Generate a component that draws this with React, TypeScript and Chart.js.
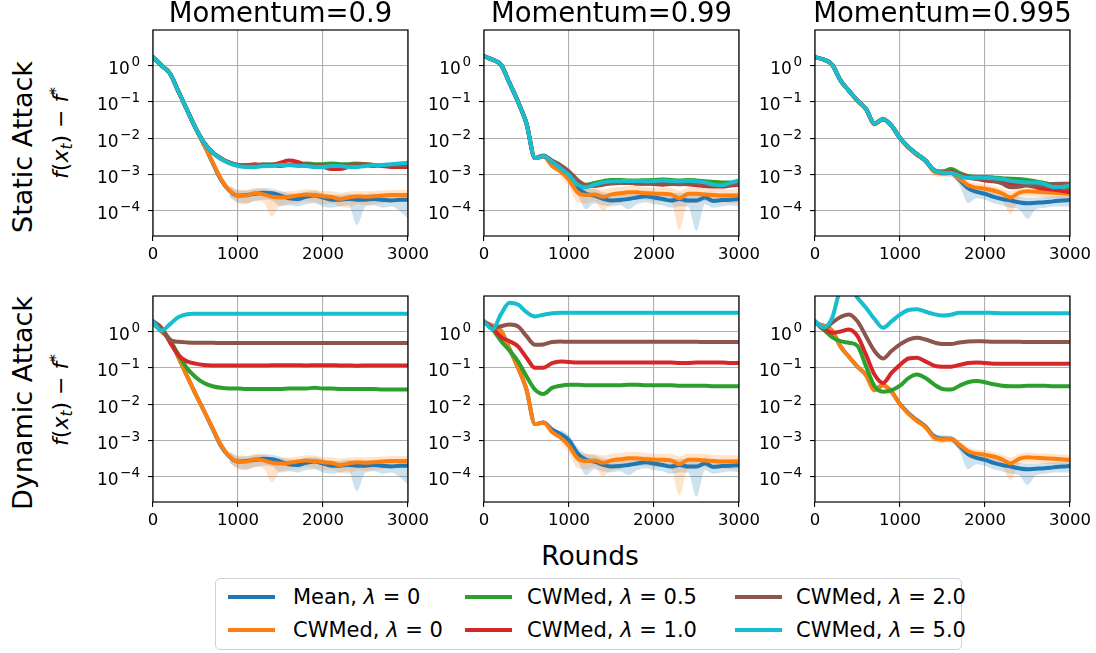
import React, { useEffect, useRef } from "react";
import { Chart, registerables } from "chart.js";

Chart.register(...registerables);

// ---------------- data ----------------
const ROUNDS = [0, 100, 200, 300, 400, 500, 600, 700, 800, 900, 1000, 1100, 1200, 1300, 1400, 1500, 1600, 1700, 1800, 1900, 2000, 2100, 2200, 2300, 2400, 2500, 2600, 2700, 2800, 2900, 3000];
const BAND_ROUNDS = [900, 1000, 1100, 1200, 1300, 1400, 1500, 1600, 1700, 1800, 1900, 2000, 2100, 2200, 2300, 2400, 2500, 2600, 2700, 2800, 2900, 3000];

const X_TICKS = [0, 1000, 2000, 3000];
const Y_TICKS = [1e-4, 1e-3, 1e-2, 1e-1, 1];
const Y_TICK_BASE = "10";
const Y_TICK_EXPONENTS = ["−4", "−3", "−2", "−1", "0"];

const TITLES = ["Momentum=0.9", "Momentum=0.99", "Momentum=0.995"];
const ROW_LABELS = ["Static Attack", "Dynamic Attack"];
const X_LABEL = "Rounds";

const SERIES_NAMES = ["Mean", "CWMed", "CWMed", "CWMed", "CWMed", "CWMed"];
const SERIES_LAMBDAS = ["0", "0", "0.5", "1.0", "2.0", "5.0"];
const COLORS = ["#1f77b4", "#ff7f0e", "#2ca02c", "#d62728", "#8c564b", "#17becf"];
const BAND_COLORS = ["rgba(31,119,180,0.22)", "rgba(255,127,14,0.22)"];

// Momentum 0.9 — Mean / CWMed λ=0 (same under both attacks)
const M09_MEAN = [1.7, 1.0, 0.6, 0.19, 0.06, 0.019, 0.0065, 0.0021, 7.0e-4, 3.5e-4, 2.6e-4, 2.7e-4, 2.9e-4, 3.1e-4, 3.0e-4, 2.6e-4, 2.2e-4, 2.1e-4, 2.4e-4, 2.6e-4, 2.3e-4, 2.0e-4, 2.0e-4, 2.1e-4, 2.0e-4, 2.0e-4, 2.1e-4, 2.0e-4, 1.9e-4, 2.0e-4, 2.0e-4];
const M09_CWMED0 = [1.7, 1.0, 0.6, 0.19, 0.06, 0.019, 0.0065, 0.0022, 7.5e-4, 3.6e-4, 2.6e-4, 2.6e-4, 3.0e-4, 2.8e-4, 2.4e-4, 2.3e-4, 2.4e-4, 2.6e-4, 2.8e-4, 2.7e-4, 2.5e-4, 2.4e-4, 2.1e-4, 2.3e-4, 2.5e-4, 2.4e-4, 2.5e-4, 2.6e-4, 2.7e-4, 2.7e-4, 2.7e-4];
const M09_MEAN_LO = [2.4e-4, 1.7e-4, 1.6e-4, 1.8e-4, 2.0e-4, 1.9e-4, 1.3e-4, 1.4e-4, 1.3e-4, 1.5e-4, 1.6e-4, 1.3e-4, 1.2e-4, 1.3e-4, 1.4e-4, 4e-5, 1.3e-4, 1.4e-4, 1.2e-4, 1.3e-4, 1.0e-4, 6e-5];
const M09_MEAN_HI = [4.8e-4, 3.6e-4, 3.6e-4, 3.9e-4, 4.2e-4, 4.0e-4, 3.5e-4, 3.0e-4, 2.9e-4, 3.3e-4, 3.5e-4, 3.0e-4, 2.7e-4, 2.7e-4, 2.9e-4, 2.7e-4, 2.8e-4, 2.9e-4, 2.7e-4, 2.6e-4, 2.7e-4, 2.8e-4];
const M09_CWMED0_LO = [2.5e-4, 1.6e-4, 1.5e-4, 1.9e-4, 1.7e-4, 7e-5, 1.4e-4, 1.5e-4, 1.6e-4, 1.8e-4, 1.7e-4, 1.5e-4, 1.6e-4, 1.3e-4, 1.2e-4, 1.5e-4, 1.4e-4, 1.5e-4, 1.6e-4, 1.7e-4, 1.7e-4, 1.8e-4];
const M09_CWMED0_HI = [5.0e-4, 3.8e-4, 3.7e-4, 4.2e-4, 4.0e-4, 3.4e-4, 3.3e-4, 3.4e-4, 3.6e-4, 3.9e-4, 3.8e-4, 3.5e-4, 3.4e-4, 3.1e-4, 3.3e-4, 3.5e-4, 3.4e-4, 3.5e-4, 3.6e-4, 3.7e-4, 3.7e-4, 3.7e-4];

// Momentum 0.9 — static attack
const S09_CW05 = [1.7, 1.0, 0.6, 0.19, 0.06, 0.019, 0.0075, 0.004, 0.0027, 0.0021, 0.0018, 0.0017, 0.0017, 0.0018, 0.0019, 0.0018, 0.0018, 0.0019, 0.0020, 0.0019, 0.0019, 0.0020, 0.0019, 0.0019, 0.0020, 0.0019, 0.0018, 0.0018, 0.0017, 0.0017, 0.0016];
const S09_CW10 = [1.7, 1.0, 0.6, 0.19, 0.06, 0.019, 0.0075, 0.004, 0.0027, 0.0021, 0.0018, 0.0018, 0.0019, 0.0017, 0.0018, 0.0021, 0.0024, 0.0022, 0.0018, 0.0017, 0.0016, 0.0014, 0.0014, 0.0016, 0.0018, 0.0019, 0.0018, 0.0017, 0.0016, 0.0016, 0.0016];
const S09_CW20 = [1.7, 1.0, 0.6, 0.19, 0.06, 0.019, 0.0076, 0.0041, 0.0028, 0.0021, 0.0018, 0.0018, 0.0018, 0.0019, 0.0018, 0.0017, 0.0018, 0.0018, 0.0019, 0.0018, 0.0018, 0.0017, 0.0018, 0.0018, 0.0019, 0.0018, 0.0017, 0.0018, 0.0018, 0.0018, 0.0018];
const S09_CW50 = [1.7, 1.0, 0.6, 0.19, 0.06, 0.019, 0.0075, 0.004, 0.0027, 0.0020, 0.0017, 0.0016, 0.0016, 0.0017, 0.0017, 0.0018, 0.0018, 0.0017, 0.0017, 0.0016, 0.0016, 0.0017, 0.0017, 0.0016, 0.0016, 0.0017, 0.0018, 0.0018, 0.0019, 0.0020, 0.0021];

// Momentum 0.9 — dynamic attack
const D09_CW05 = [1.9, 1.25, 0.55, 0.23, 0.097, 0.056, 0.038, 0.031, 0.028, 0.027, 0.027, 0.026, 0.026, 0.026, 0.026, 0.026, 0.027, 0.027, 0.027, 0.028, 0.027, 0.027, 0.026, 0.026, 0.026, 0.026, 0.026, 0.025, 0.025, 0.025, 0.025];
const D09_CW10 = [1.9, 1.25, 0.5, 0.22, 0.15, 0.13, 0.12, 0.116, 0.115, 0.115, 0.115, 0.115, 0.115, 0.116, 0.117, 0.118, 0.118, 0.117, 0.116, 0.117, 0.118, 0.117, 0.116, 0.115, 0.114, 0.115, 0.116, 0.116, 0.115, 0.115, 0.115];
const D09_CW20 = [1.9, 1.15, 0.58, 0.52, 0.5, 0.49, 0.49, 0.49, 0.48, 0.48, 0.48, 0.48, 0.48, 0.48, 0.48, 0.48, 0.48, 0.48, 0.48, 0.48, 0.48, 0.48, 0.48, 0.48, 0.48, 0.48, 0.48, 0.48, 0.48, 0.48, 0.48];
const D09_CW50 = [1.9, 1.05, 1.6, 2.5, 3.0, 3.08, 3.1, 3.1, 3.1, 3.1, 3.1, 3.1, 3.1, 3.1, 3.1, 3.1, 3.1, 3.1, 3.1, 3.1, 3.1, 3.1, 3.1, 3.1, 3.1, 3.1, 3.1, 3.1, 3.1, 3.1, 3.1];

// Momentum 0.99 — Mean / CWMed λ=0
const M099_MEAN = [1.8, 1.45, 1.05, 0.33, 0.1, 0.025, 0.0028, 0.0031, 0.002, 0.0015, 0.001, 4.4e-4, 2.9e-4, 2.6e-4, 2.1e-4, 1.9e-4, 1.95e-4, 2.1e-4, 2.3e-4, 2.5e-4, 2.3e-4, 2.1e-4, 1.9e-4, 2.1e-4, 1.9e-4, 1.9e-4, 2.3e-4, 1.85e-4, 1.95e-4, 2.0e-4, 2.1e-4];
const M099_CWMED0 = [1.8, 1.45, 1.05, 0.33, 0.1, 0.025, 0.0028, 0.0031, 0.0017, 0.0012, 7e-4, 3.2e-4, 2.7e-4, 2.8e-4, 2.4e-4, 2.8e-4, 3.0e-4, 3.2e-4, 3.2e-4, 3.0e-4, 2.9e-4, 2.9e-4, 2.8e-4, 2.2e-4, 2.9e-4, 2.9e-4, 2.8e-4, 2.7e-4, 2.6e-4, 2.6e-4, 2.6e-4];
const M099_MEAN_LO = [1.1e-3, 7e-4, 2.8e-4, 1.1e-4, 1.6e-4, 1.4e-4, 1.3e-4, 1.4e-4, 1.1e-4, 1.5e-4, 1.7e-4, 1.5e-4, 1.4e-4, 1.2e-4, 1.3e-4, 1.3e-4, 2.8e-5, 1.5e-4, 1.2e-4, 1.3e-4, 1.4e-4, 1.3e-4];
const M099_MEAN_HI = [2.0e-3, 1.4e-3, 6.5e-4, 4.3e-4, 3.9e-4, 3.2e-4, 2.9e-4, 2.9e-4, 3.1e-4, 3.4e-4, 3.6e-4, 3.4e-4, 3.1e-4, 2.9e-4, 3.1e-4, 2.9e-4, 2.8e-4, 3.3e-4, 2.8e-4, 2.9e-4, 3.0e-4, 3.1e-4];
const M099_CWMED0_LO = [8e-4, 4.5e-4, 1.7e-4, 1.6e-4, 1.8e-4, 1.0e-4, 1.5e-4, 1.6e-4, 1.8e-4, 2.0e-4, 2.0e-4, 1.8e-4, 1.8e-4, 1.7e-4, 3e-5, 1.6e-4, 1.6e-4, 1.8e-4, 1.7e-4, 1.7e-4, 1.6e-4, 1.6e-4];
const M099_CWMED0_HI = [1.7e-3, 1.0e-3, 5.0e-4, 4.2e-4, 4.2e-4, 3.8e-4, 4.3e-4, 4.5e-4, 4.8e-4, 4.8e-4, 4.5e-4, 4.3e-4, 4.3e-4, 4.2e-4, 3.6e-4, 4.3e-4, 4.3e-4, 4.2e-4, 4.0e-4, 3.9e-4, 3.9e-4, 3.9e-4];

// Momentum 0.99 — static attack
const S099_CW05 = [1.8, 1.45, 1.05, 0.33, 0.1, 0.025, 0.0028, 0.0032, 0.0022, 0.0016, 0.0011, 6e-4, 5.2e-4, 5.8e-4, 6.5e-4, 7.0e-4, 7.0e-4, 6.8e-4, 6.8e-4, 6.9e-4, 7.0e-4, 7.2e-4, 7.0e-4, 6.8e-4, 7.0e-4, 6.8e-4, 6.5e-4, 6.2e-4, 6.0e-4, 6.0e-4, 6.0e-4];
const S099_CW10 = [1.8, 1.45, 1.05, 0.33, 0.1, 0.025, 0.0028, 0.0032, 0.0022, 0.0016, 0.0011, 6e-4, 4.8e-4, 5.0e-4, 5.8e-4, 6.3e-4, 6.4e-4, 6.0e-4, 5.6e-4, 5.6e-4, 5.4e-4, 5.2e-4, 5.4e-4, 5.5e-4, 5.3e-4, 5.0e-4, 4.8e-4, 4.6e-4, 4.6e-4, 4.9e-4, 5.2e-4];
const S099_CW20 = [1.8, 1.45, 1.05, 0.33, 0.1, 0.025, 0.0029, 0.0033, 0.0024, 0.0018, 0.0012, 7e-4, 5.0e-4, 4.8e-4, 5.2e-4, 5.6e-4, 5.8e-4, 5.8e-4, 5.6e-4, 5.5e-4, 5.6e-4, 5.6e-4, 5.6e-4, 5.3e-4, 5.5e-4, 5.5e-4, 5.3e-4, 5.0e-4, 5.0e-4, 5.2e-4, 5.5e-4];
const S099_CW50 = [1.8, 1.45, 1.05, 0.33, 0.1, 0.025, 0.0028, 0.0032, 0.0022, 0.0015, 9.5e-4, 5.2e-4, 4.4e-4, 5.2e-4, 6.0e-4, 6.4e-4, 6.5e-4, 6.6e-4, 6.6e-4, 6.5e-4, 6.6e-4, 6.8e-4, 6.6e-4, 6.5e-4, 6.7e-4, 6.4e-4, 6.0e-4, 5.2e-4, 5.0e-4, 5.8e-4, 6.8e-4];

// Momentum 0.99 — dynamic attack
const D099_CW05 = [1.9, 1.15, 0.55, 0.3, 0.15, 0.058, 0.025, 0.019, 0.028, 0.032, 0.034, 0.034, 0.033, 0.033, 0.033, 0.033, 0.033, 0.034, 0.034, 0.033, 0.033, 0.033, 0.033, 0.032, 0.032, 0.032, 0.032, 0.031, 0.031, 0.031, 0.031];
const D099_CW10 = [1.9, 1.25, 0.7, 0.54, 0.39, 0.19, 0.1, 0.1, 0.135, 0.15, 0.145, 0.14, 0.14, 0.14, 0.14, 0.14, 0.14, 0.14, 0.14, 0.14, 0.14, 0.14, 0.14, 0.135, 0.135, 0.14, 0.14, 0.14, 0.14, 0.135, 0.135];
const D099_CW20 = [1.9, 1.27, 1.4, 1.55, 1.38, 0.74, 0.43, 0.44, 0.51, 0.53, 0.52, 0.52, 0.52, 0.52, 0.52, 0.52, 0.52, 0.52, 0.52, 0.52, 0.52, 0.52, 0.52, 0.52, 0.52, 0.52, 0.51, 0.51, 0.51, 0.51, 0.51];
const D099_CW50 = [1.9, 1.15, 3.0, 6.2, 5.5, 3.4, 2.6, 2.9, 3.2, 3.3, 3.3, 3.3, 3.3, 3.3, 3.3, 3.3, 3.3, 3.3, 3.3, 3.3, 3.3, 3.3, 3.3, 3.3, 3.3, 3.3, 3.3, 3.3, 3.3, 3.3, 3.3];

// Momentum 0.995 — Mean / CWMed λ=0
const M0995_MEAN = [1.7, 1.46, 1.07, 0.39, 0.2, 0.107, 0.063, 0.025, 0.033, 0.022, 0.01, 0.0056, 0.0036, 0.0024, 0.0013, 0.0011, 0.0011, 7e-4, 4.2e-4, 3.3e-4, 2.9e-4, 2.4e-4, 2.1e-4, 1.9e-4, 1.7e-4, 1.6e-4, 1.65e-4, 1.7e-4, 1.8e-4, 1.9e-4, 1.95e-4];
const M0995_CWMED0 = [1.7, 1.46, 1.07, 0.39, 0.2, 0.107, 0.063, 0.024, 0.034, 0.022, 0.0098, 0.0054, 0.0034, 0.0023, 0.0012, 0.00105, 0.0011, 7.5e-4, 5.0e-4, 4.3e-4, 4.0e-4, 3.6e-4, 3.0e-4, 2.3e-4, 3.1e-4, 3.4e-4, 3.3e-4, 3.2e-4, 3.1e-4, 3.0e-4, 2.9e-4];
const M0995_MEAN_LO = [0.02, 0.009, 0.005, 0.0032, 0.0021, 0.0011, 9e-4, 8.5e-4, 5e-4, 1.6e-4, 2.2e-4, 2.0e-4, 1.6e-4, 1.4e-4, 1.2e-4, 1.1e-4, 6e-5, 1.1e-4, 1.2e-4, 1.3e-4, 1.3e-4, 1.3e-4];
const M0995_MEAN_HI = [0.024, 0.011, 0.0062, 0.004, 0.0027, 0.0015, 0.0014, 0.0013, 9e-4, 6e-4, 4.6e-4, 4.1e-4, 3.4e-4, 3.0e-4, 2.7e-4, 2.4e-4, 2.3e-4, 2.3e-4, 2.4e-4, 2.5e-4, 2.6e-4, 2.7e-4];
const M0995_CWMED0_LO = [0.02, 0.0088, 0.0048, 0.003, 0.002, 9e-4, 8.5e-4, 9e-4, 6e-4, 3.6e-4, 3.2e-4, 3.0e-4, 2.6e-4, 2.0e-4, 8e-5, 2.2e-4, 2.5e-4, 2.4e-4, 2.3e-4, 2.2e-4, 2.2e-4, 2.1e-4];
const M0995_CWMED0_HI = [0.024, 0.011, 0.006, 0.0038, 0.0026, 0.0015, 0.0013, 0.0013, 9.5e-4, 6.6e-4, 5.7e-4, 5.3e-4, 4.8e-4, 4.1e-4, 3.4e-4, 4.2e-4, 4.6e-4, 4.5e-4, 4.4e-4, 4.2e-4, 4.1e-4, 4.0e-4];

// Momentum 0.995 — static attack
const S0995_CW05 = [1.7, 1.46, 1.07, 0.39, 0.2, 0.107, 0.063, 0.025, 0.033, 0.022, 0.01, 0.0056, 0.0036, 0.0024, 0.0013, 0.0012, 0.0014, 0.0011, 9e-4, 8.5e-4, 8.5e-4, 8.2e-4, 7.8e-4, 7.6e-4, 7.4e-4, 7.0e-4, 6.4e-4, 5.8e-4, 5.2e-4, 4.6e-4, 4.0e-4];
const S0995_CW10 = [1.7, 1.46, 1.07, 0.39, 0.2, 0.107, 0.063, 0.025, 0.033, 0.022, 0.01, 0.0056, 0.0036, 0.0024, 0.0013, 0.0011, 0.0012, 9.5e-4, 8.5e-4, 7.5e-4, 6.8e-4, 6.4e-4, 6.0e-4, 5.5e-4, 5.2e-4, 5.0e-4, 4.4e-4, 4.0e-4, 3.8e-4, 3.5e-4, 3.2e-4];
const S0995_CW20 = [1.7, 1.46, 1.07, 0.39, 0.2, 0.107, 0.063, 0.025, 0.033, 0.022, 0.01, 0.0056, 0.0036, 0.0024, 0.0013, 0.0011, 0.0011, 9e-4, 8e-4, 7.6e-4, 7.4e-4, 6.6e-4, 5.6e-4, 4.4e-4, 4.6e-4, 5.0e-4, 4.9e-4, 5.0e-4, 5.4e-4, 5.5e-4, 5.5e-4];
const S0995_CW50 = [1.7, 1.46, 1.07, 0.39, 0.2, 0.107, 0.063, 0.025, 0.033, 0.022, 0.01, 0.0056, 0.0036, 0.0024, 0.0013, 0.0011, 0.0011, 9e-4, 8e-4, 8e-4, 8e-4, 7.8e-4, 7.4e-4, 6.6e-4, 6.2e-4, 6.0e-4, 6.0e-4, 5.4e-4, 4.5e-4, 4.5e-4, 4.9e-4];

// Momentum 0.995 — dynamic attack
const D0995_CW05 = [1.9, 1.13, 0.7, 0.54, 0.49, 0.4, 0.11, 0.031, 0.022, 0.024, 0.032, 0.052, 0.065, 0.052, 0.035, 0.026, 0.025, 0.032, 0.04, 0.043, 0.04, 0.035, 0.032, 0.031, 0.031, 0.032, 0.032, 0.032, 0.031, 0.031, 0.031];
const D0995_CW10 = [1.9, 1.2, 0.92, 1.0, 1.13, 0.74, 0.23, 0.065, 0.038, 0.072, 0.12, 0.18, 0.19, 0.15, 0.115, 0.107, 0.107, 0.12, 0.135, 0.14, 0.135, 0.13, 0.13, 0.13, 0.13, 0.13, 0.13, 0.13, 0.13, 0.13, 0.13];
const D0995_CW20 = [1.9, 1.2, 1.73, 2.5, 2.95, 1.9, 0.74, 0.29, 0.18, 0.29, 0.44, 0.6, 0.67, 0.6, 0.5, 0.45, 0.45, 0.5, 0.53, 0.54, 0.53, 0.52, 0.52, 0.52, 0.52, 0.51, 0.51, 0.51, 0.51, 0.51, 0.51];
const D0995_CW50 = [1.9, 1.3, 2.3, 14, 18, 8.5, 4.5, 2.2, 1.26, 1.9, 2.9, 3.9, 4.1, 3.5, 3.0, 2.75, 2.9, 3.3, 3.3, 3.3, 3.3, 3.25, 3.2, 3.2, 3.2, 3.2, 3.2, 3.2, 3.2, 3.2, 3.2];

// ---------------- layout ----------------
const FONT = "'DejaVu Sans', 'Liberation Sans', sans-serif";
const COL_LEFT = [153, 484, 815];
const ROW_TOP = [30, 296];
const PLOT_W = 255;
const PLOT_H = 206;
const AX_W = 75;
const AX_H = 32;
const PAD_T = 25;
const PAD_R = 32;
const Y_MIN = 2e-5;
const Y_MAX = 9.5;
const TICK_FONT_SIZE = 16.5;
const Y_BASE_FONT_SIZE = 17;
const EXP_FONT_SIZE = 13.5;

type Band = [number[], number[]];
type PanelSpec = { row: number; col: number; series: number[][]; bands: Band[] };

const PANELS: PanelSpec[] = [
  { row: 0, col: 0, series: [M09_MEAN, M09_CWMED0, S09_CW05, S09_CW10, S09_CW20, S09_CW50], bands: [[M09_MEAN_LO, M09_MEAN_HI], [M09_CWMED0_LO, M09_CWMED0_HI]] },
  { row: 0, col: 1, series: [M099_MEAN, M099_CWMED0, S099_CW05, S099_CW10, S099_CW20, S099_CW50], bands: [[M099_MEAN_LO, M099_MEAN_HI], [M099_CWMED0_LO, M099_CWMED0_HI]] },
  { row: 0, col: 2, series: [M0995_MEAN, M0995_CWMED0, S0995_CW05, S0995_CW10, S0995_CW20, S0995_CW50], bands: [[M0995_MEAN_LO, M0995_MEAN_HI], [M0995_CWMED0_LO, M0995_CWMED0_HI]] },
  { row: 1, col: 0, series: [M09_MEAN, M09_CWMED0, D09_CW05, D09_CW10, D09_CW20, D09_CW50], bands: [[M09_MEAN_LO, M09_MEAN_HI], [M09_CWMED0_LO, M09_CWMED0_HI]] },
  { row: 1, col: 1, series: [M099_MEAN, M099_CWMED0, D099_CW05, D099_CW10, D099_CW20, D099_CW50], bands: [[M099_MEAN_LO, M099_MEAN_HI], [M099_CWMED0_LO, M099_CWMED0_HI]] },
  { row: 1, col: 2, series: [M0995_MEAN, M0995_CWMED0, D0995_CW05, D0995_CW10, D0995_CW20, D0995_CW50], bands: [[M0995_MEAN_LO, M0995_MEAN_HI], [M0995_CWMED0_LO, M0995_CWMED0_HI]] },
];

// spines on all four sides + y tick labels as 10 with raised exponent
const axesPlugin = {
  id: "axesDecor",
  afterDraw(chart: any) {
    const { ctx, chartArea: a } = chart;
    const yScale = chart.scales.y;
    ctx.save();
    ctx.strokeStyle = "#000";
    ctx.lineWidth = 1.2;
    ctx.strokeRect(a.left, a.top, a.right - a.left, a.bottom - a.top);

    ctx.fillStyle = "#000";
    ctx.textBaseline = "alphabetic";
    ctx.textAlign = "left";
    const right = a.left - 5 - 8;
    Y_TICKS.forEach((v, i) => {
      const y = yScale.getPixelForValue(v);
      const exp = Y_TICK_EXPONENTS[i];
      ctx.font = `${EXP_FONT_SIZE}px ${FONT}`;
      const ew = ctx.measureText(exp).width;
      ctx.font = `${Y_BASE_FONT_SIZE}px ${FONT}`;
      const bw = ctx.measureText(Y_TICK_BASE).width;
      const gap = 1.5;
      const x0 = right - ew - gap - bw;
      const baseline = y + 8.5;
      ctx.fillText(Y_TICK_BASE, x0, baseline);
      ctx.font = `${EXP_FONT_SIZE}px ${FONT}`;
      ctx.fillText(exp, x0 + bw + gap, baseline - 8);
    });
    ctx.restore();
  },
};

function Panel({ spec }: { spec: PanelSpec }) {
  const ref = useRef<HTMLCanvasElement>(null);
  const cw = AX_W + PLOT_W + PAD_R;
  const ch = PAD_T + PLOT_H + AX_H;
  const left = COL_LEFT[spec.col] - AX_W;
  const top = ROW_TOP[spec.row] - PAD_T;

  useEffect(() => {
    if (!ref.current) return;
    const datasets: any[] = [];
    spec.bands.forEach(([lo, hi], i) => {
      datasets.push({
        data: BAND_ROUNDS.map((x, k) => ({ x, y: hi[k] })),
        borderWidth: 0,
        pointRadius: 0,
        backgroundColor: BAND_COLORS[i],
        fill: "+1",
        order: 20 - 2 * i,
        cubicInterpolationMode: "monotone",
      });
      datasets.push({
        data: BAND_ROUNDS.map((x, k) => ({ x, y: lo[k] })),
        borderWidth: 0,
        pointRadius: 0,
        fill: false,
        order: 19 - 2 * i,
        cubicInterpolationMode: "monotone",
      });
    });
    spec.series.forEach((vals, i) => {
      datasets.push({
        data: ROUNDS.map((x, k) => ({ x, y: vals[k] })),
        borderColor: COLORS[i],
        borderWidth: 4,
        pointRadius: 0,
        fill: false,
        order: 6 - i,
        borderJoinStyle: "round",
        borderCapStyle: "round",
        cubicInterpolationMode: "monotone",
      });
    });

    const tickFont = { family: FONT, size: TICK_FONT_SIZE };
    const chart = new Chart(ref.current, {
      type: "line",
      data: { datasets },
      options: {
        animation: false,
        responsive: false,
        events: [],
        layout: { padding: { left: 0, top: PAD_T, right: PAD_R, bottom: 0 } },
        plugins: { legend: { display: false }, tooltip: { enabled: false } },
        scales: {
          x: {
            type: "linear",
            min: 0,
            max: 3000,
            afterBuildTicks: (s: any) => {
              s.ticks = X_TICKS.map((v) => ({ value: v }));
            },
            afterFit: (s: any) => {
              s.height = AX_H;
            },
            ticks: {
              callback: (v: any) => String(v),
              font: tickFont,
              color: "#000",
              padding: 4,
              maxRotation: 0,
              autoSkip: false,
            },
            grid: { color: "#b0b0b0", lineWidth: 1.1, tickLength: 5, tickColor: "#000", tickWidth: 1.1 },
            border: { display: false },
          },
          y: {
            type: "logarithmic",
            min: Y_MIN,
            max: Y_MAX,
            afterBuildTicks: (s: any) => {
              s.ticks = Y_TICKS.map((v) => ({ value: v }));
            },
            afterFit: (s: any) => {
              s.width = AX_W;
            },
            ticks: { display: false },
            grid: { color: "#b0b0b0", lineWidth: 1.1, tickLength: 5, tickColor: "#000", tickWidth: 1.1 },
            border: { display: false },
          },
        },
      } as any,
      plugins: [axesPlugin],
    });
    return () => chart.destroy();
  }, [spec]);

  return (
    <canvas
      ref={ref}
      width={cw}
      height={ch}
      style={{ position: "absolute", left, top, width: cw, height: ch }}
    />
  );
}

function YMath({ x, y }: { x: number; y: number }) {
  return (
    <div
      style={{
        position: "absolute",
        left: x,
        top: y,
        transform: "translate(-50%, -50%) rotate(-90deg)",
        fontSize: 22,
        whiteSpace: "nowrap",
        lineHeight: 1,
      }}
    >
      <i>f</i>(<i>x</i>
      <sub style={{ fontSize: "0.7em", verticalAlign: "-0.25em" }}>
        <i>t</i>
      </sub>
      ) − <i>f</i>
      <sup style={{ fontSize: "0.7em", verticalAlign: "0.5em" }}>*</sup>
    </div>
  );
}

export default function App() {
  const legendCols = [
    { handle: 228, text: 293 },
    { handle: 465, text: 527 },
    { handle: 735, text: 796 },
  ];
  const legendRows = [597, 630];
  return (
    <div
      style={{
        position: "fixed",
        left: 0,
        top: 0,
        width: 1096,
        height: 653,
        background: "#fff",
        fontFamily: FONT,
        color: "#000",
        overflow: "hidden",
      }}
    >
      {PANELS.map((p, i) => (
        <Panel key={i} spec={p} />
      ))}

      {TITLES.map((t, i) => (
        <div
          key={t}
          style={{
            position: "absolute",
            left: COL_LEFT[i] + PLOT_W / 2,
            top: 13,
            transform: "translate(-50%, -50%)",
            fontSize: 27.5,
            whiteSpace: "nowrap",
            lineHeight: 1,
          }}
        >
          {t}
        </div>
      ))}

      {ROW_LABELS.map((t, i) => (
        <div
          key={t}
          style={{
            position: "absolute",
            left: 22,
            top: i === 0 ? 147 : 403,
            transform: "translate(-50%, -50%) rotate(-90deg)",
            fontSize: 27,
            whiteSpace: "nowrap",
            lineHeight: 1,
          }}
        >
          {t}
        </div>
      ))}

      <YMath x={62} y={133} />
      <YMath x={62} y={400} />

      <div
        style={{
          position: "absolute",
          left: 590,
          top: 556,
          transform: "translate(-50%, -50%)",
          fontSize: 26.5,
          whiteSpace: "nowrap",
          lineHeight: 1,
        }}
      >
        {X_LABEL}
      </div>

      <div
        style={{
          position: "absolute",
          left: 215,
          top: 578,
          width: 747,
          height: 72,
          border: "1px solid #d0d0d0",
          borderRadius: 5,
          boxSizing: "border-box",
          background: "rgba(255,255,255,0.8)",
        }}
      />
      {SERIES_NAMES.map((name, i) => {
        const col = legendCols[Math.floor(i / 2)];
        const cy = legendRows[i % 2];
        return (
          <React.Fragment key={i}>
            <div
              style={{
                position: "absolute",
                left: col.handle,
                top: cy - 2,
                width: 47,
                height: 4,
                background: COLORS[i],
              }}
            />
            <div
              style={{
                position: "absolute",
                left: col.text,
                top: cy,
                transform: "translateY(-50%)",
                fontSize: 21,
                whiteSpace: "nowrap",
                lineHeight: 1,
              }}
            >
              {name}, <i>λ</i> = {SERIES_LAMBDAS[i]}
            </div>
          </React.Fragment>
        );
      })}
    </div>
  );
}
